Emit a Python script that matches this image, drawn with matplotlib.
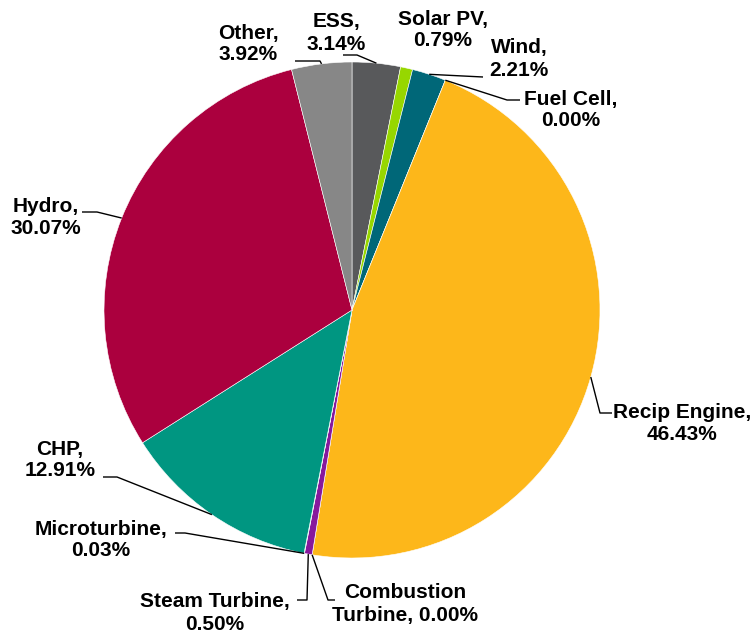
import numpy as np
import matplotlib
matplotlib.use("Agg")
import matplotlib.pyplot as plt

# data
labels = ["ESS", "Solar PV", "Wind", "Fuel Cell", "Recip Engine",
          "Combustion\nTurbine", "Steam Turbine", "Microturbine", "CHP",
          "Hydro", "Other"]
shares = [3.14, 0.79, 2.21, 0.00, 46.43, 0.00, 0.50, 0.03, 12.91, 30.07, 3.92]
colors = ["#58595b", "#97d700", "#006778", "#4f81bd", "#fdb71a", "#c0504d",
          "#87189d", "#00a0b0", "#009681", "#ab003e", "#878787"]

W, H = 756, 632
CX, CY, R = 352, 310, 248  # pie centre / radius in pixels (from top)

# label layout: text centre, and elbow point(s) of the leader line (pixels from top)
label_pos = {
    "ESS": (336, 33), "Solar PV": (443, 30), "Wind": (519, 59),
    "Fuel Cell": (571, 110), "Recip Engine": (682, 423),
    "Combustion\nTurbine": (405, 604), "Steam Turbine": (215, 613),
    "Microturbine": (101, 540), "CHP": (60, 460), "Hydro": (46, 217),
    "Other": (248, 44),
}
leader = {
    "ESS": [(343, 55), (357, 55)],
    "Wind": [(483, 77)],
    "Fuel Cell": [(520, 100), (507, 100)],
    "Recip Engine": [(612, 413), (600, 413)],
    "Combustion\nTurbine": [(335, 600), (328, 600)],
    "Steam Turbine": [(297, 600), (307, 600)],
    "Microturbine": [(175, 533), (185, 533)],
    "CHP": [(103, 477), (117, 477)],
    "Hydro": [(82, 212), (97, 212)],
    "Other": [(295, 61), (320, 61)],
}

fig = plt.figure(figsize=(W / 100, H / 100), dpi=100)
ax = fig.add_axes([0, 0, 1, 1])
ax.set_xlim(0, W)
ax.set_ylim(0, H)
ax.set_aspect("equal")
ax.axis("off")

wedges, _ = ax.pie(shares, colors=colors, startangle=90, counterclock=False,
                   center=(CX, H - CY), radius=R,
                   wedgeprops=dict(edgecolor="white", linewidth=0.4))
ax.set_xlim(0, W)
ax.set_ylim(0, H)

font = dict(family="Liberation Sans", weight="bold", size=15)
for w, lab, val in zip(wedges, labels, shares):
    tx, ty = label_pos[lab]
    if lab.startswith("Combustion"):
        txt = f"Combustion\nTurbine, {val:.2f}%"
    else:
        txt = f"{lab},\n{val:.2f}%"
    ax.text(tx, H - ty, txt, ha="center", va="center", linespacing=1.2,
            color="black", **font)
    if lab in leader:
        if w.theta2 - w.theta1 > 0:
            ang = np.deg2rad((w.theta1 + w.theta2) / 2)
        else:
            ang = np.deg2rad(w.theta1)
        ex = CX + R * np.cos(ang)
        ey = CY - R * np.sin(ang)
        pts = leader[lab] + [(ex, ey)]
        xs = [p[0] for p in pts]
        ys = [H - p[1] for p in pts]
        ax.plot(xs, ys, color="black", linewidth=1.0, solid_capstyle="butt")

fig.savefig("out.png", dpi=100)
